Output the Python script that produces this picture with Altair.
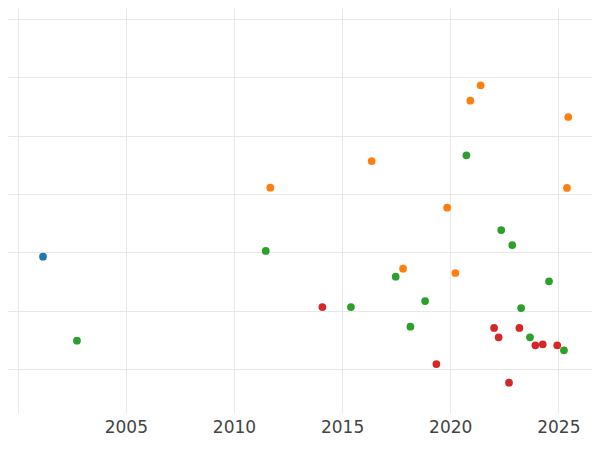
import altair as alt
import pandas as pd

# Series values (x = year, y = value in gridline units)
blue_x = [2001.17]
blue_y = [2.924]

green_x = [2002.74, 2011.47, 2015.41, 2017.48, 2018.16, 2018.84, 2020.75,
           2022.36, 2022.87, 2023.28, 2023.69, 2024.57, 2025.26]
green_y = [1.485, 3.022, 2.062, 2.581, 1.725, 2.165, 4.661,
           3.381, 3.124, 2.045, 1.543, 2.503, 1.321]

orange_x = [2011.68, 2016.37, 2017.82, 2019.86, 2020.24, 2020.93, 2021.41,
            2025.40, 2025.46]
orange_y = [4.106, 4.563, 2.718, 3.763, 2.645, 5.596, 5.860, 4.101, 5.317]

red_x = [2014.09, 2019.36, 2022.03, 2022.24, 2022.72, 2023.20, 2023.94,
         2024.28, 2024.95]
red_y = [2.062, 1.086, 1.703, 1.543, 0.766, 1.703, 1.406, 1.423, 1.406]

categories = ["A", "B", "C", "D"]
colors = ["#1f77b4", "#ff7f0e", "#2ca02c", "#d62728"]
x_ticks = [2000, 2005, 2010, 2015, 2020, 2025]
y_ticks = [1, 2, 3, 4, 5, 6, 7]

rows = []
for cat, xs, ys in [("A", blue_x, blue_y), ("B", orange_x, orange_y),
                    ("C", green_x, green_y), ("D", red_x, red_y)]:
    for x, y in zip(xs, ys):
        rows.append({"year": x, "value": y, "group": cat})
df = pd.DataFrame(rows)

chart = alt.Chart(df).mark_circle(size=60, opacity=1).encode(
    x=alt.X("year:Q",
            scale=alt.Scale(domain=[1999.551, 2026.558], nice=False, zero=False),
            axis=alt.Axis(values=x_ticks, format="d", title=None, domain=False,
                          ticks=False, labelBound=True, labelFontSize=17,
                          labelColor="#444444", labelFont="DejaVu Sans",
                          labelPadding=6, gridColor="#e8e8e8")),
    y=alt.Y("value:Q",
            scale=alt.Scale(domain=[0.247, 7.184], nice=False, zero=False),
            axis=alt.Axis(values=y_ticks, labels=False, ticks=False, domain=False,
                          title=None, gridColor="#e8e8e8")),
    color=alt.Color("group:N", scale=alt.Scale(domain=categories, range=colors),
                    legend=None),
).properties(
    width=584, height=405,
    padding={"left": 0, "top": 0, "right": 0, "bottom": 24},
    autosize=alt.AutoSizeParams(type="none"),
).configure_view(stroke=None)

chart.save("out.html", embed_options={"renderer": "svg", "actions": False})
